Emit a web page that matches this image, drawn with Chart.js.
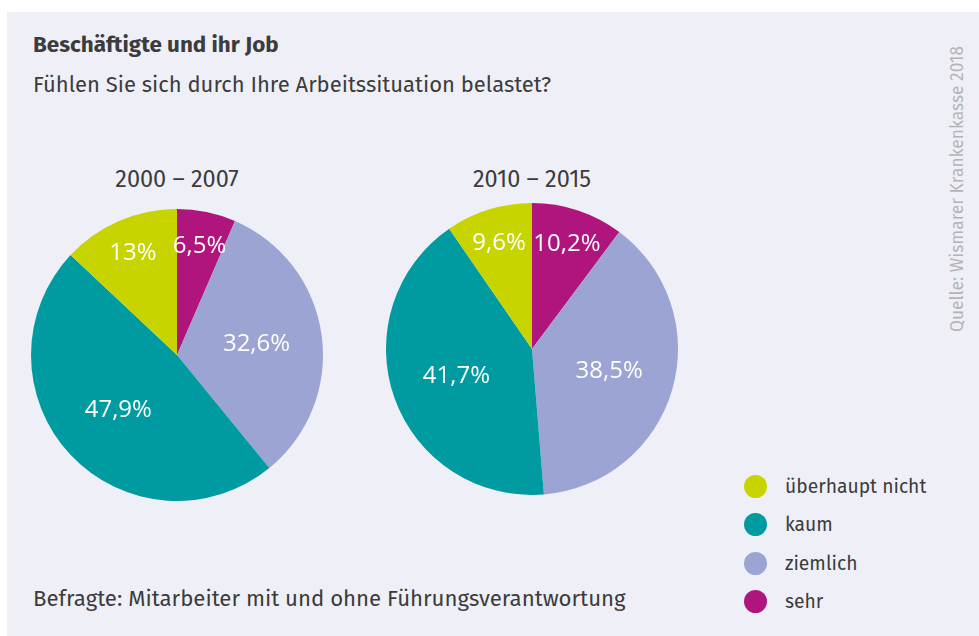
<!DOCTYPE html>
<html>
<head>
<meta charset="utf-8">
<script src="https://cdn.jsdelivr.net/npm/chart.js@4"></script>
<style>
  body { margin: 0; background: #fff; width: 979px; height: 636px; overflow: hidden; font-family: "Fira Sans", "Lato", sans-serif; color: #3c3c3c; }
  #panel { position: absolute; left: 7px; top: 12px; width: 972px; height: 624px; background: #eff0f7; }
  .abs { position: absolute; white-space: nowrap; }
  #title { left: 33px; top: 31px; font-size: 22.4px; font-weight: bold; }
  #sub { left: 33px; top: 71px; font-size: 22px; }
  #foot { left: 33px; top: 585px; font-size: 22.2px; }
  .ptitle { top: 165px; width: 300px; text-align: center; font-size: 23.5px; }
  #src { left: 957px; top: 189px; font-size: 17.4px; color: #b4b4b8; transform: translate(-50%, -50%) rotate(-90deg); }
  .wrap { position: absolute; width: 300px; height: 300px; }
  #legend { left: 744px; top: 467px; }
  .li { display: flex; align-items: center; height: 38.5px; font-size: 19.3px; }
  .dot { width: 23px; height: 23px; border-radius: 50%; margin-right: 18px; }
</style>
</head>
<body>
<div id="panel"></div>
<div class="abs" id="title">Beschäftigte und ihr Job</div>
<div class="abs" id="sub">Fühlen Sie sich durch Ihre Arbeitssituation belastet?</div>
<div class="abs ptitle" id="t1" style="left:27px"></div>
<div class="abs ptitle" id="t2" style="left:382px"></div>
<div class="wrap" style="left:27px; top:205px"><canvas id="pie1"></canvas></div>
<div class="wrap" style="left:382px; top:199px"><canvas id="pie2"></canvas></div>
<div class="abs" id="legend"></div>
<div class="abs" id="foot">Befragte: Mitarbeiter mit und ohne Führungsverantwortung</div>
<div class="abs" id="src">Quelle: Wismarer Krankenkasse 2018</div>
<script>
// legend order
const categories = ['überhaupt nicht', 'kaum', 'ziemlich', 'sehr'];
const colors = ['#c8d400', '#009ba0', '#9ba4d2', '#b0157e'];
const periods = ['2000 – 2007', '2010 – 2015'];
const values2000 = [13, 47.9, 32.6, 6.5];
const values2010 = [9.6, 41.7, 38.5, 10.2];

document.getElementById('t1').textContent = periods[0];
document.getElementById('t2').textContent = periods[1];

const legendEl = document.getElementById('legend');
categories.forEach(function (c, i) {
    const row = document.createElement('div');
    row.className = 'li';
    row.innerHTML = '<span class="dot" style="background:' + colors[i] + '"></span>' + c;
    legendEl.appendChild(row);
});

function fmt(v) {
    return String(v).replace('.', ',') + '%';
}

// white percent labels inside the slices
const sliceLabels = {
    id: 'sliceLabels',
    afterDatasetsDraw: function (chart) {
        const ctx = chart.ctx;
        const meta = chart.getDatasetMeta(0);
        const data = chart.data.datasets[0].data;
        ctx.save();
        ctx.fillStyle = '#ffffff';
        ctx.font = '24px "Open Sans", sans-serif';
        ctx.textAlign = 'center';
        ctx.textBaseline = 'middle';
        meta.data.forEach(function (arc, i) {
            const p = arc.getProps(['startAngle', 'endAngle', 'outerRadius', 'x', 'y'], true);
            const mid = (p.startAngle + p.endAngle) / 2;
            const f = data[i] < 15 ? 0.76 : 0.55;
            ctx.fillText(fmt(data[i]), p.x + Math.cos(mid) * p.outerRadius * f, p.y + Math.sin(mid) * p.outerRadius * f);
        });
        ctx.restore();
    }
};

function makePie(id, values) {
    // draw clockwise from 12 o'clock: sehr, ziemlich, kaum, überhaupt nicht
    const order = [3, 2, 1, 0];
    new Chart(document.getElementById(id), {
        type: 'pie',
        data: {
            labels: order.map(function (i) { return categories[i]; }),
            datasets: [{
                data: order.map(function (i) { return values[i]; }),
                backgroundColor: order.map(function (i) { return colors[i]; }),
                borderWidth: 0
            }]
        },
        options: {
            responsive: false,
            animation: false,
            layout: { padding: 4 },
            plugins: { legend: { display: false }, tooltip: { enabled: false } }
        },
        plugins: [sliceLabels]
    });
}

document.getElementById('pie1').width = 300;
document.getElementById('pie1').height = 300;
document.getElementById('pie2').width = 300;
document.getElementById('pie2').height = 300;
makePie('pie1', values2000);
makePie('pie2', values2010);
</script>
</body>
</html>
